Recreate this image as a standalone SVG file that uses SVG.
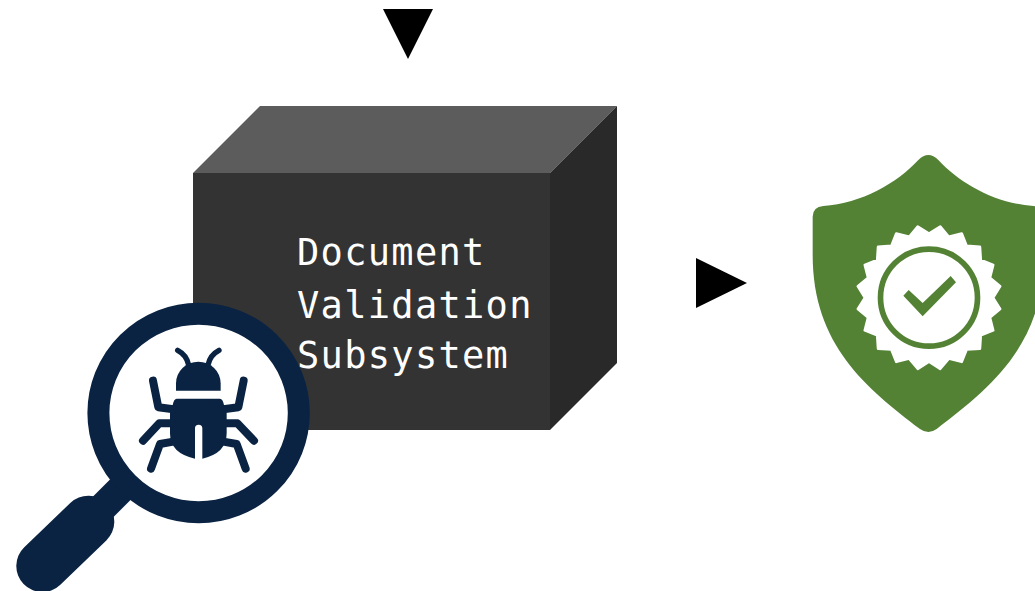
<svg xmlns="http://www.w3.org/2000/svg" width="1035" height="591" viewBox="0 0 1035 591">
<style>
.navy{fill:#0a2342}
.leg{fill:none;stroke:#0a2342;stroke-linecap:round;stroke-linejoin:round}
.green{fill:#548235}
.label{font-family:"DejaVu Sans Mono","Liberation Mono",monospace;font-size:37px;letter-spacing:1.3px;fill:#fff}
</style>
<rect width="1035" height="591" fill="#fff"/>
<g id="connectors">
<polygon points="383,9 433,9 408,59" fill="#000"/>
<polygon points="696,258 747,283 696,308" fill="#000"/>
</g>
<g id="validation-subsystem">
<polygon points="193,173 550,173 550,430 193,430" fill="#333333"/>
<polygon points="193,173 260,106 617,106 550,173" fill="#5c5c5c"/>
<polygon points="550,173 617,106 617,363 550,430" fill="#292929"/>
</g>
<g id="bug-magnifier">
<line x1="88.3" y1="521.7" x2="135" y2="475" stroke="#0a2342" stroke-width="29"/>
<line x1="42.3" y1="566" x2="88.3" y2="521.7" stroke="#0a2342" stroke-width="52" stroke-linecap="round"/>
<ellipse cx="198.6" cy="413" rx="100.2" ry="99.3" fill="#fff" stroke="#0a2342" stroke-width="22"/>
<g transform="translate(0,290) scale(0.33333)">
<path class="navy" d="M528 302V280A67 65 0 0 1 662 280V302Z"/>
<path class="navy" d="M530 326H660Q668 326 672 345L680 370V430Q680 490 607 506V415A11 11 0 0 0 585 415V506Q510 490 510 430V370L518 345Q522 326 530 326Z"/>
<g class="leg" stroke-width="16">
<path d="M533 181Q560 195 566 225"/>
<path d="M657 181Q630 195 624 225"/>
</g>
<g class="leg" stroke-width="24">
<path d="M459 272L475 352L520 358"/>
<path d="M731 272L715 352L670 358"/>
<path d="M429 452L478 400H515"/>
<path d="M762 452L712 400H675"/>
<path d="M453 536L480 462L520 455"/>
<path d="M737 536L710 462L670 455"/>
</g>
</g>
</g>
<g id="label">
<text class="label" x="297" y="265">Document</text>
<text class="label" x="297" y="318">Validation</text>
<text class="label" x="297" y="368">Subsystem</text>
</g>
<g id="shield" transform="translate(800,145) scale(0.33333)">
<path class="green" d="M355 45Q385 15 415 45C480 115 585 175 700 183Q732 186 732 215V330C732 600 570 730 410 852Q385 870 360 852C200 730 38 600 38 330V215Q38 186 70 183C185 175 290 115 355 45Z"/>
<polygon transform="translate(387,458)" fill="#fff" stroke="#fff" stroke-width="8" stroke-linejoin="round" points="192,0 213.3,33.8 182.6,59.3 192.5,98.1 155.3,112.9 152.7,152.7 112.9,155.3 98.1,192.5 59.3,182.6 33.8,213.3 0,192 -33.8,213.3 -59.3,182.6 -98.1,192.5 -112.9,155.3 -152.7,152.7 -155.3,112.9 -192.5,98.1 -182.6,59.3 -213.3,33.8 -192,0 -213.3,-33.8 -182.6,-59.3 -192.5,-98.1 -155.3,-112.9 -152.7,-152.7 -112.9,-155.3 -98.1,-192.5 -59.3,-182.6 -33.8,-213.3 0,-192 33.8,-213.3 59.3,-182.6 98.1,-192.5 112.9,-155.3 152.7,-152.7 155.3,-112.9 192.5,-98.1 182.6,-59.3 213.3,-33.8"/>
<circle cx="387" cy="458" r="145.5" fill="none" stroke="#548235" stroke-width="17"/>
<polygon class="green" points="310,452 326,435 368,474 452,393 468,412 368,514"/>
</g>
</svg>
